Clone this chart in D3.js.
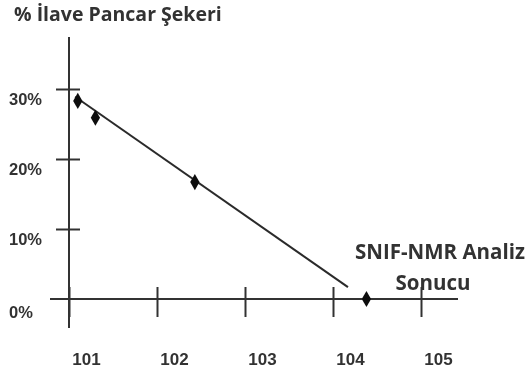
<!DOCTYPE html>
<html>
<head>
<meta charset="utf-8">
<script src="https://cdn.jsdelivr.net/npm/d3@7"></script>
<style>
  body { margin: 0; background: #fff; }
  svg { display: block; font-family: "Open Sans", "DejaVu Sans", sans-serif; }
</style>
</head>
<body>
<div id="chart"></div>
<script>
// values
const xTicks = [101, 102, 103, 104, 105];
const yTicks = [0, 10, 20, 30];
const pointX = [101.1, 101.3, 102.43, 104.38];
const pointY = [28.3, 25.9, 16.7, 0];
const trendX = [101.07, 104.17];
const trendY = [28.9, 1.7];
const titleText = "% İlave Pancar Şekeri";
const noteLines = ["SNIF-NMR Analiz", "Sonucu"];

const W = 532, H = 375;
const ink = "#333";

const svg = d3.select("#chart").append("svg")
    .attr("width", W)
    .attr("height", H);

svg.append("rect").attr("width", W).attr("height", H).attr("fill", "#fff");

// the reference is a soft scan, so blur everything a little
svg.append("defs").append("filter")
    .attr("id", "soft")
    .append("feGaussianBlur")
    .attr("stdDeviation", 0.45);

const g = svg.append("g").attr("filter", "url(#soft)");

const x = d3.scaleLinear().domain([101, 105]).range([69, 421]);
const y = d3.scaleLinear().domain([0, 30]).range([299, 89]);

// title
g.append("text")
    .attr("x", 14)
    .attr("y", 21)
    .attr("fill", ink)
    .style("font-size", "19.5px")
    .style("font-weight", "bold")
    .text(titleText);

// axis lines (hand-drawn look: they run past the ticks)
g.append("line")
    .attr("x1", x(101)).attr("x2", x(101))
    .attr("y1", 37).attr("y2", 328)
    .attr("stroke", ink).attr("stroke-width", 2);

g.append("line")
    .attr("x1", 50).attr("x2", 458)
    .attr("y1", y(0)).attr("y2", y(0))
    .attr("stroke", ink).attr("stroke-width", 2);

// x axis ticks + labels
const gx = g.append("g")
    .attr("transform", `translate(0,${y(0)})`)
    .call(d3.axisBottom(x).tickValues(xTicks).tickFormat(d3.format("d")).tickSize(0));
gx.select(".domain").remove();
gx.selectAll(".tick line")
    .attr("y1", -12).attr("y2", 18)
    .attr("stroke", ink).attr("stroke-width", 2);
gx.selectAll(".tick text")
    .attr("x", 17)
    .attr("y", 66)
    .attr("dy", 0)
    .attr("fill", ink)
    .style("font-size", "17px")
    .style("font-weight", "bold");

// y axis ticks + labels
const gy = g.append("g")
    .attr("transform", `translate(${x(101)},0)`)
    .call(d3.axisLeft(y).tickValues(yTicks).tickFormat(d => d + "%").tickSize(0));
gy.select(".domain").remove();
gy.selectAll(".tick line")
    .attr("x1", -13).attr("x2", 11)
    .attr("stroke", ink).attr("stroke-width", 2);
gy.selectAll(".tick line").filter(d => d === 0).remove();
gy.selectAll(".tick text")
    .attr("x", -60)
    .attr("dy", d => d === 0 ? "1.15em" : "0.95em")
    .attr("text-anchor", "start")
    .attr("fill", ink)
    .style("font-size", "16.5px")
    .style("font-weight", "bold");

// trend line
const trend = trendX.map((v, i) => [v, trendY[i]]);
g.append("path")
    .datum(trend)
    .attr("d", d3.line().x(d => x(d[0])).y(d => y(d[1])))
    .attr("fill", "none")
    .attr("stroke", "#2a2a2a")
    .attr("stroke-width", 2);

// diamond markers
const pts = pointX.map((v, i) => ({ x: v, y: pointY[i] }));
g.selectAll(".pt")
    .data(pts)
    .enter()
    .append("path")
    .attr("class", "pt")
    .attr("transform", d => `translate(${x(d.x)},${y(d.y)})`)
    .attr("d", d3.symbol().type(d3.symbolDiamond).size(75))
    .attr("fill", "#111");

// annotation
g.append("text")
    .attr("text-anchor", "middle")
    .attr("fill", ink)
    .style("font-size", "20.5px")
    .style("font-weight", "bold")
    .selectAll("tspan")
    .data(noteLines)
    .enter()
    .append("tspan")
    .attr("x", (d, i) => i === 0 ? 440 : 433)
    .attr("y", (d, i) => i === 0 ? 259 : 290)
    .text(d => d);
</script>
</body>
</html>
